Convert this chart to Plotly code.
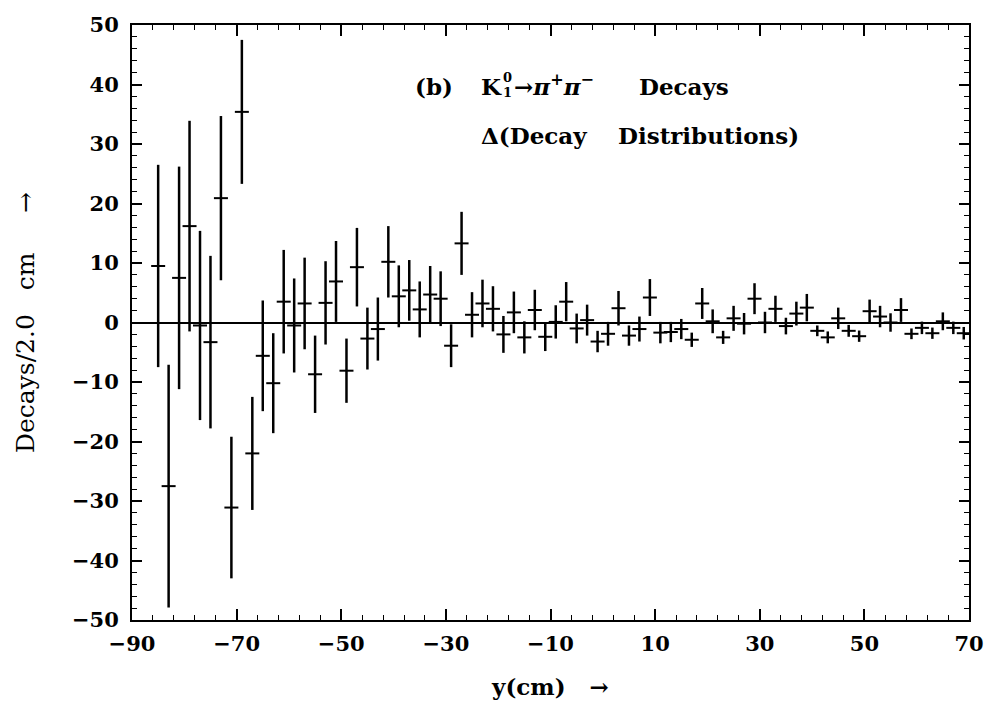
import plotly.graph_objects as go

# bin centres (cm)
y_cm = list(range(-85, 70, 2))
# Δ(decays) per 2 cm bin
delta = [9.5, -27.5, 7.5, 16.2, -0.5, -3.3, 20.9, -31.1, 35.4, -22.0,
         -5.6, -10.2, 3.5, -0.5, 3.2, -8.7, 3.3, 6.9, -8.1, 9.3,
         -2.7, -1.1, 10.2, 4.4, 5.4, 2.2, 4.7, 4.0, -3.9, 13.3,
         1.3, 3.2, 2.3, -2.0, 1.7, -2.5, 2.1, -2.4, 0.1, 3.5,
         -1.0, 0.4, -3.2, -1.9, 2.4, -2.2, -1.1, 4.2, -1.7, -1.6,
         -1.1, -2.9, 3.2, 0.2, -2.5, 0.7, -0.2, 4.0, 0.0, 2.3,
         -0.6, 1.5, 2.5, -1.4, -2.5, 0.7, -1.4, -2.3, 1.9, 1.0,
         0.0, 2.1, -1.9, -0.9, -1.8, 0.2, -0.9, -1.8]
errors = [17.0, 20.4, 18.7, 17.7, 15.9, 14.5, 13.8, 11.9, 12.1, 9.5,
          9.3, 8.4, 8.7, 7.9, 7.7, 6.5, 7.0, 6.8, 5.4, 6.6,
          5.2, 5.3, 6.0, 5.2, 5.1, 4.7, 4.8, 4.6, 3.6, 5.3,
          3.8, 4.0, 3.8, 3.1, 3.5, 2.7, 3.4, 2.4, 2.8, 3.3,
          2.5, 2.6, 1.8, 2.0, 2.9, 1.7, 2.1, 3.1, 1.8, 1.7,
          1.7, 1.2, 2.6, 2.0, 1.1, 2.1, 1.8, 2.6, 1.8, 2.2,
          1.4, 2.0, 2.3, 0.9, 1.0, 1.8, 1.0, 0.95, 1.95, 1.8,
          1.55, 2.0, 0.9, 1.05, 0.95, 1.5, 1.05, 1.05]

x_ticks = [-90, -70, -50, -30, -10, 10, 30, 50, 70]
y_ticks = [50, 40, 30, 20, 10, 0, -10, -20, -30, -40, -50]

SERIF = "DejaVu Serif"
W, H = 996, 709
ML, MR, MT, MB = 132, 17, 18, 89
PW, PH = W - ML - MR, H - MT - MB
NB = "\u00a0"


def px(xp):
    return (xp - ML) / PW


def py(yp):
    return (H - MB - yp) / PH


fig = go.Figure()
fig.add_trace(go.Scatter(
    x=y_cm, y=delta, mode="markers",
    marker=dict(symbol="line-ew", size=10, color="black",
                line=dict(color="black", width=2)),
    error_y=dict(type="data", array=errors, visible=True,
                 color="black", thickness=2.5, width=0),
    showlegend=False, hoverinfo="x+y",
))

axis_common = dict(
    showline=True, linecolor="black", linewidth=2, mirror="allticks",
    ticks="inside", tickcolor="black", showgrid=False,
)

fig.update_xaxes(
    range=[-90, 70], tickmode="array", tickvals=x_ticks,
    ticktext=[f"\u2212{abs(v)}" if v < 0 else str(v) for v in x_ticks],
    ticklen=11, tickwidth=1.5,
    minor=dict(dtick=4, tick0=-90, ticklen=5, ticks="inside", tickcolor="black", tickwidth=1.2),
    tickfont=dict(family=SERIF, size=21, color="black", weight="bold"),
    title=dict(text="<b>y(cm)" + NB * 3 + "\u2192</b>", font=dict(family=SERIF, size=23, color="black"), standoff=24),
    zeroline=False, ticklabelstandoff=4,
    **axis_common,
)
fig.update_yaxes(
    range=[-50, 50], tickmode="array", tickvals=y_ticks,
    ticktext=[f"\u2212{abs(v)}" if v < 0 else str(v) for v in y_ticks],
    ticklen=10, tickwidth=1.5,
    minor=dict(dtick=2, tick0=-50, ticklen=5, ticks="inside", tickcolor="black", tickwidth=1.2),
    tickfont=dict(family=SERIF, size=21, color="black", weight="bold"),
    title=dict(text="Decays/2.0" + NB * 3 + "cm" + NB * 5 + "\u2192",
               font=dict(family=SERIF, size=25, color="black"), standoff=30),
    zeroline=True, zerolinecolor="black", zerolinewidth=2,
    ticklabelstandoff=7,
    **axis_common,
)

# in-plot legend text, placed by pixel positions of the reference
labels = [
    ("<b>(b)</b>", 417, 80, 23),
    ("<b>K</b>", 484, 80, 23),
    ("<b>0</b>", 506, 71, 13),
    ("<b>1</b>", 506, 86, 13),
    ("<b>\u2192<i>\u03c0</i><sup>+</sup><i>\u03c0</i><sup>\u2212</sup></b>", 518, 79, 23),
    ("<b>Decays</b>", 644, 80, 23),
    ("<b>\u0394(Decay</b>", 484, 130, 23),
    ("<b>Distributions)</b>", 623, 130, 23),
]
for txt, xp, yp, sz in labels:
    fig.add_annotation(
        x=px(xp), y=py(yp), xref="paper", yref="paper",
        xanchor="left", yanchor="middle", text=txt, showarrow=False,
        font=dict(family=SERIF, size=sz, color="black"), borderpad=0,
    )

fig.update_layout(
    width=W, height=H,
    margin=dict(l=ML, r=MR, t=MT, b=MB),
    plot_bgcolor="white", paper_bgcolor="white",
    font=dict(family=SERIF, color="black"),
)

fig.write_html("out.html")
